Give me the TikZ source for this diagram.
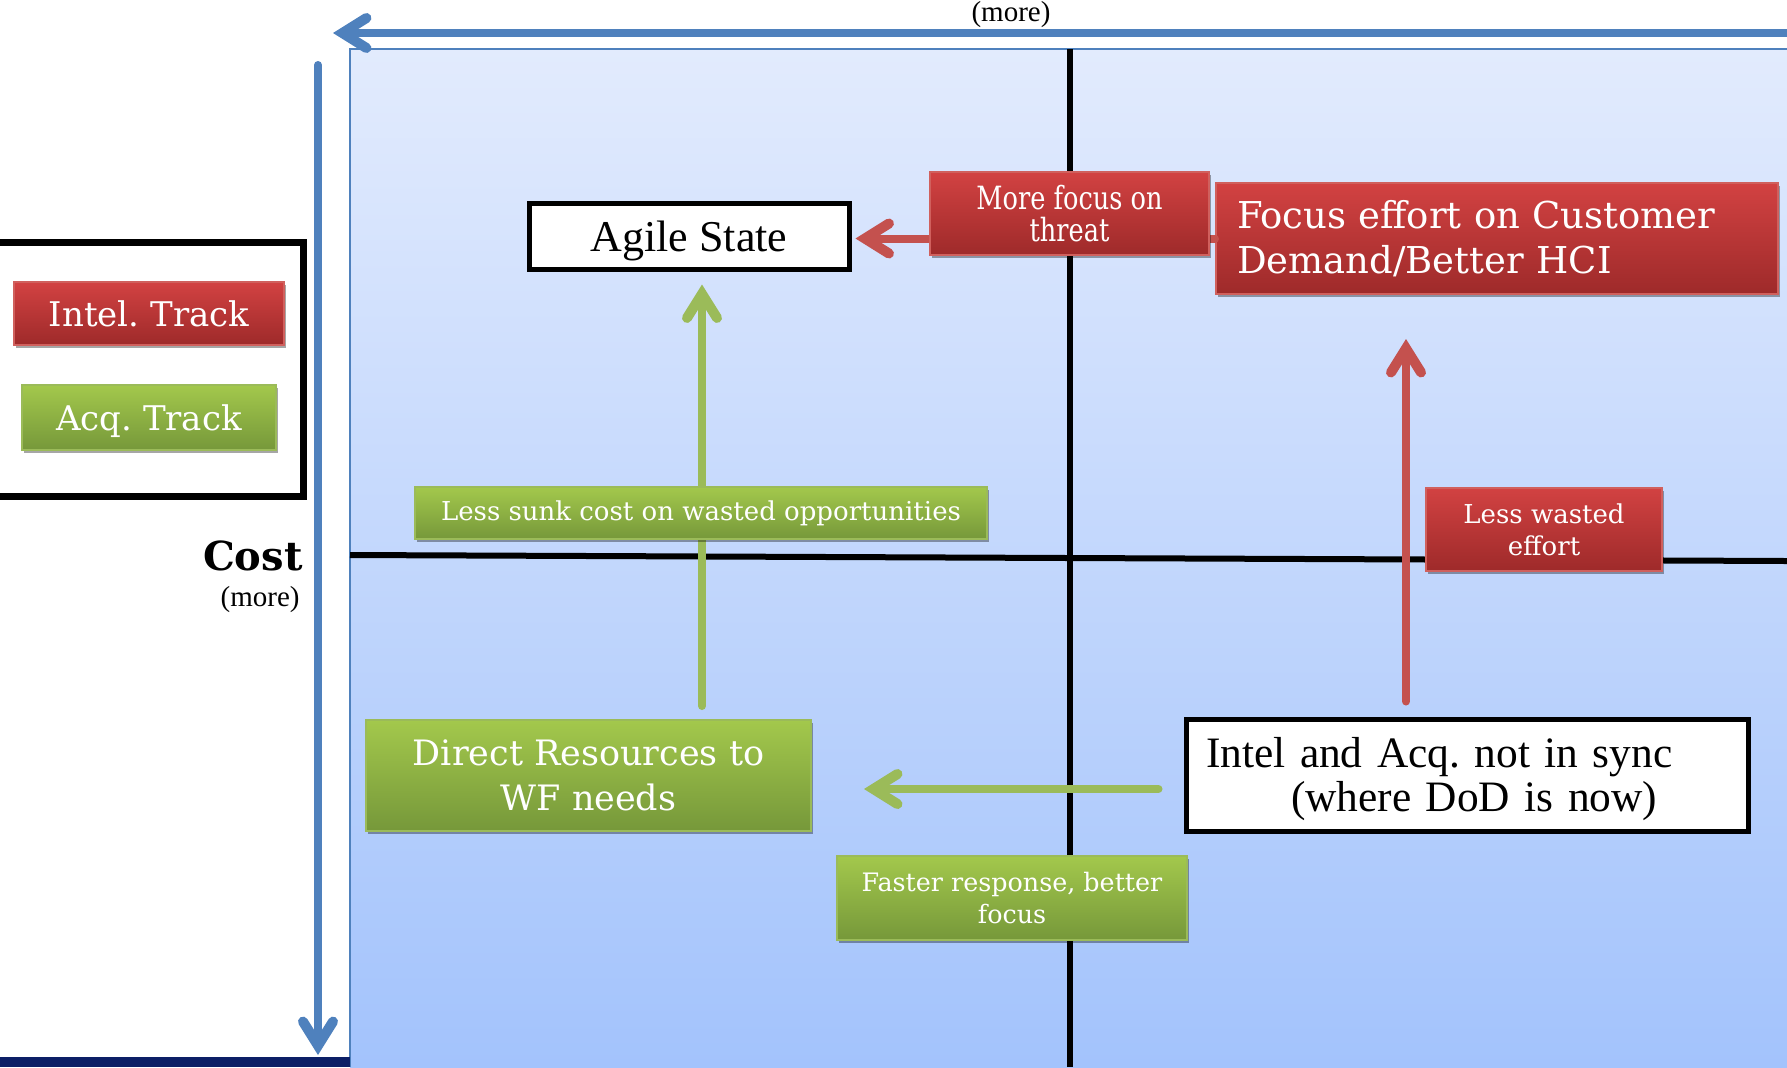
\documentclass[tikz,border=0pt]{standalone}
\usepackage{fontspec}
\setmainfont{Liberation Serif}
\newfontfamily\bk{DejaVu Serif}
\newfontfamily\bkc{DejaVu Serif}[FakeStretch=0.8]
\usetikzlibrary{arrows.meta,shadows,calc}
\frenchspacing

\definecolor{axblue}{HTML}{4F81BD}
\definecolor{plottop}{HTML}{E2EBFD}
\definecolor{plotbot}{HTML}{A3C3FC}
\definecolor{navy}{HTML}{0C1F66}
\definecolor{redtop}{HTML}{D24242}
\definecolor{redbot}{HTML}{9E2A2A}
\definecolor{redline}{HTML}{D0605D}
\definecolor{redarrow}{HTML}{C4514E}
\definecolor{greentop}{HTML}{A3C84C}
\definecolor{greenbot}{HTML}{76983A}
\definecolor{greenline}{HTML}{9BBB59}
\definecolor{greenarrow}{HTML}{9BBB59}

\tikzset{
 shadowed/.style={drop shadow={shadow xshift=1pt, shadow yshift=-1.5pt, opacity=0.35, fill=black}},
 redbox/.style={shadowed, draw=redline, line width=1pt, top color=redtop, bottom color=redbot, text=white, inner sep=0pt, align=center},
 greenbox/.style={shadowed, draw=greenline, line width=1pt, top color=greentop, bottom color=greenbot, text=white, inner sep=0pt, align=center},
 whitebox/.style={shadowed, draw=black, line width=2.5pt, fill=white, inner sep=0pt, align=center},
 barb/.style={-{Straight Barb[length=12pt,width=15pt,line width=1pt 1,line cap=round,line join=miter]}, line cap=round},
 bluearrow/.style={barb, draw=axblue, line width=4pt},
 redarr/.style={barb, draw=redarrow, line width=4pt},
 greenarr/.style={barb, draw=greenarrow, line width=4pt},
 axisline/.style={draw=black, line width=3pt},
}

\begin{document}
\begin{tikzpicture}[x=0.5pt,y=-0.5pt]
\useasboundingbox (0,0) rectangle (1787,1067);
\clip (0,0) rectangle (1787,1067);
\fill[white] (0,0) rectangle (1787,1067);
% plot background
\shade[top color=plottop, bottom color=plotbot] (350,49) rectangle (1787,1067);
\draw[axblue, line width=1pt] (350,1067) -- (350,49) -- (1787,49);
% navy bar
\fill[navy] (0,1057) rectangle (350,1067);
% quadrant axes
\draw[axisline] (1070,49) -- (1070,1067);
\draw[axisline] (350,555) -- (1787,561);
% blue axis arrows
\coordinate (topR) at (1800,33);
\coordinate (topL) at (333,33);
\coordinate (leftT) at (318,65);
\coordinate (leftB) at (318,1055);
\draw[bluearrow] (topR) -- (topL);
\draw[bluearrow] (leftT) -- (leftB);

% legend
\node[shadowed, draw=black, line width=3.5pt, fill=white, minimum width=153.5pt, minimum height=127pt] (legend) at (149.5,369) {};
\node[redbox, minimum width=135pt, minimum height=31.5pt, font=\bk\fontsize{17}{20}\selectfont] (intel) at (149,313.5) {Intel. Track};
\node[greenbox, minimum width=127pt, minimum height=32.5pt, text depth=0pt, font=\bk\fontsize{17}{20}\selectfont] (acq) at (149,417.5) {Acq. Track};

% axis labels
\node[anchor=east, font=\bk\bfseries\fontsize{20}{24}\selectfont, inner sep=0pt] (cost) at (303,556) {Cost};
\node[anchor=east, font=\fontsize{14.5}{17}\selectfont, inner sep=0pt] (costmore) at (300,600) {(more)};
\node[anchor=north, font=\fontsize{14.5}{17}\selectfont, inner sep=0pt] (topmore) at (1011,1) {(more)};

% main boxes
\node[whitebox, minimum width=160pt, minimum height=33pt, text depth=0pt, font=\fontsize{22}{24}\selectfont] (agile) at (689,236) {Agile State};
\node[redbox, minimum width=281pt, minimum height=55.5pt, text width=260pt, align=left, font=\bk\fontsize{18.5}{22.8}\selectfont] (focus) at (1497,238.5) {Focus effort on Customer\\Demand/Better HCI};
\node[greenbox, minimum width=222.5pt, minimum height=55.5pt, font=\bk\fontsize{17.5}{22.2}\selectfont] (direct) at (588.5,775.5) {Direct Resources to\\WF needs};
\node[whitebox, minimum width=281pt, minimum height=56pt] (sync) at (1467,775) {};
\node[inner sep=0pt, text width=261pt, align=left, font=\fontsize{21.7}{22.2}\selectfont] (synctext) at (1467,779) {Intel and Acq. not in sync\\\hspace*{42.5pt}(where DoD is now)};

% connectors
\coordinate (rx) at (1406,0);
\coordinate (gx) at (702,0);
\coordinate (gy) at (0,789);
\draw[redarr, shorten >=2pt] (focus.west) -- (focus.west -| agile.east);
\draw[redarr, shorten <=7.5pt, shorten >=22pt] (sync.north -| rx) -- (focus.south -| rx);
\draw[greenarr, shorten <=6.5pt, shorten >=6.5pt] (direct.north -| gx) -- (agile.south -| gx);
\draw[greenarr, shorten <=12.5pt, shorten >=26pt] (sync.west |- gy) -- (direct.east |- gy);

% connector labels
\node[redbox, minimum width=139.5pt, minimum height=41.5pt, font=\bkc\fontsize{16}{16}\selectfont] (morefocus) at (1069.5,213.5) {More focus on\\threat};
\node[redbox, minimum width=118pt, minimum height=41.5pt, font=\bk\fontsize{13}{16}\selectfont] (wasted) at (1544,529.5) {Less wasted\\effort};
\node[greenbox, minimum width=286pt, minimum height=26pt, font=\bk\fontsize{13}{16}\selectfont] (sunk) at (701,513) {Less sunk cost on wasted opportunities};
\node[greenbox, minimum width=175pt, minimum height=42pt, font=\bk\fontsize{12.7}{16}\selectfont] (faster) at (1012,898) {Faster response, better\\focus};
\end{tikzpicture}
\end{document}
